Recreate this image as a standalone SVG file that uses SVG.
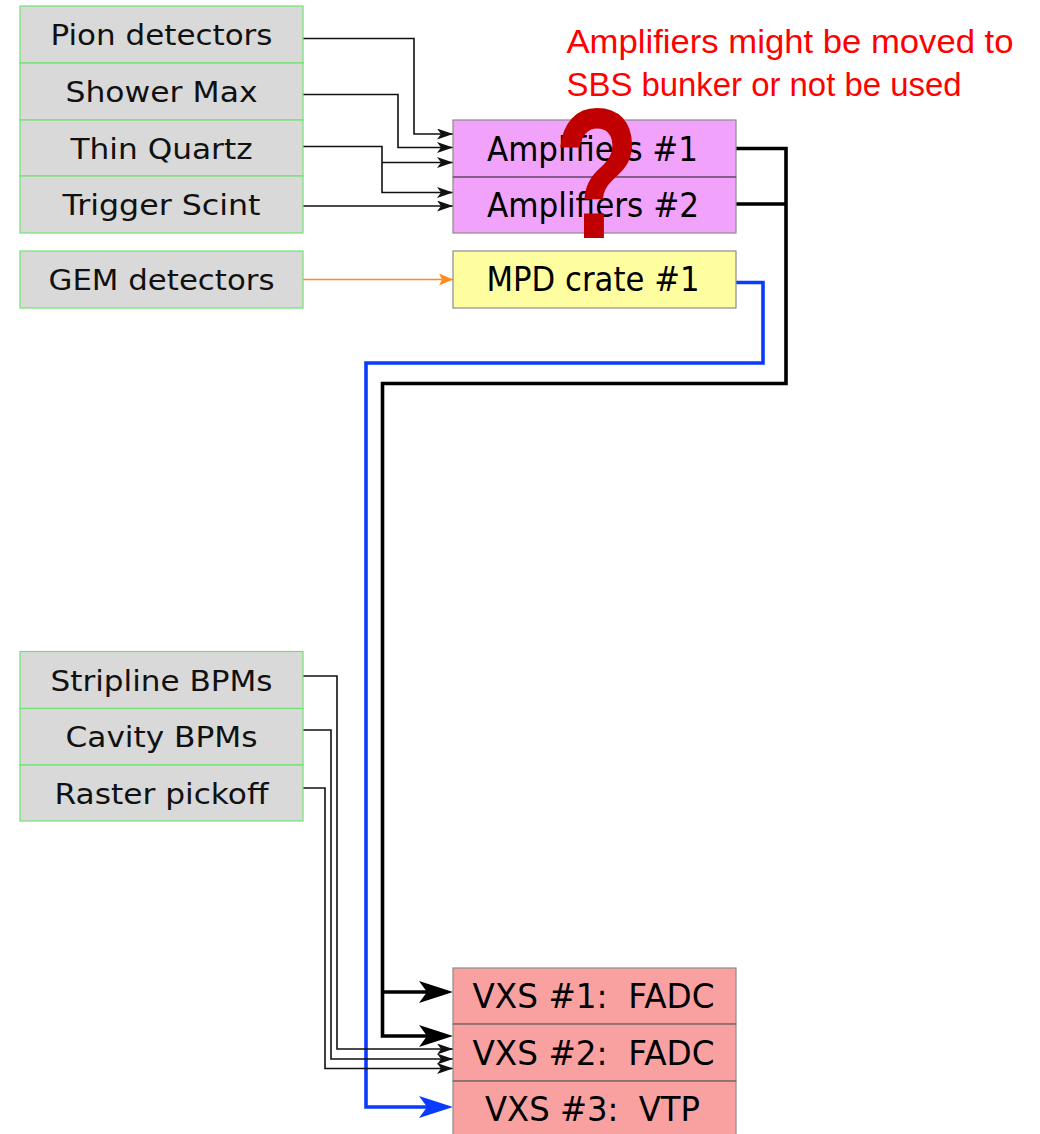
<svg xmlns="http://www.w3.org/2000/svg" width="1040" height="1134" viewBox="0 0 1040 1134">
<style>
.src{fill:#d9d9d9;stroke:#6fe36f;stroke-width:1.2}
.amp{fill:#f1a2fa;stroke:#8c8c8c;stroke-width:1.2}
.mpd{fill:#fefea0;stroke:#8c8c8c;stroke-width:1.2}
.vxs{fill:#f9a1a1;stroke:#8c8c8c;stroke-width:1.2}
.lt{font-family:"DejaVu Sans",Verdana,sans-serif;font-size:28px;fill:#111;text-anchor:middle}
.rt{font-family:"DejaVu Sans",Verdana,sans-serif;font-size:33px;fill:#000;text-anchor:middle}
.thin{fill:none;stroke:#111;stroke-width:1.6}
.thick{fill:none;stroke:#000;stroke-width:3.6}
.blue{fill:none;stroke:#0a3cff;stroke-width:3.6}
.orange{fill:none;stroke:#ff8c1a;stroke-width:1.6}
.note{font-family:"Liberation Sans",Arial,sans-serif;font-size:34px;fill:#ff0000}
</style>
<defs>
<marker id="sa" markerUnits="userSpaceOnUse" markerWidth="16" markerHeight="11" refX="16" refY="5.5" orient="auto"><path d="M0,0 L16,5.5 L0,11 L4,5.5 z" fill="#111"/></marker>
<marker id="oa" markerUnits="userSpaceOnUse" markerWidth="14" markerHeight="12" refX="14" refY="6" orient="auto"><path d="M0,0 L14,6 L0,12 L3,6 z" fill="#ff8c1a"/></marker>
<marker id="ba" markerUnits="userSpaceOnUse" markerWidth="34" markerHeight="22" refX="26" refY="11" orient="auto"><path d="M0,0 L34,11 L0,22 L8,11 z" fill="#000"/></marker>
<marker id="bb" markerUnits="userSpaceOnUse" markerWidth="34" markerHeight="22" refX="26" refY="11" orient="auto"><path d="M0,0 L34,11 L0,22 L8,11 z" fill="#0a3cff"/></marker>
</defs>

<g id="connectors">
<path class="thin" d="M303,38.5 H414 V134 H453" marker-end="url(#sa)"/>
<path class="thin" d="M303,94.5 H398 V147.5 H453" marker-end="url(#sa)"/>
<path class="thin" d="M303,146.5 H382 V192.5 H453" marker-end="url(#sa)"/>
<path class="thin" d="M382,162.5 H453" marker-end="url(#sa)"/>
<path class="thin" d="M303,206 H453" marker-end="url(#sa)"/>
<path class="orange" d="M303,279.5 H453" marker-end="url(#oa)"/>
<path class="thick" d="M736,148.5 H786 V383.5 H382.5 V1036 H445" marker-end="url(#ba)"/>
<path class="thick" d="M736,204 H786"/>
<path class="thick" d="M382.5,992 H445" marker-end="url(#ba)"/>
<path class="blue" d="M736,282.5 H763 V363 H366 V1107 H445" marker-end="url(#bb)"/>
<path class="thin" d="M303,676 H337 V1049 H453" marker-end="url(#sa)"/>
<path class="thin" d="M303,730 H331 V1059 H453" marker-end="url(#sa)"/>
<path class="thin" d="M303,788 H325 V1068.5 H453" marker-end="url(#sa)"/>
</g>

<g id="pion"><rect class="src" x="20" y="6" width="283" height="57"/><text class="lt" x="161.5" y="45" textLength="222" lengthAdjust="spacingAndGlyphs">Pion detectors</text></g>
<g id="shower"><rect class="src" x="20" y="63" width="283" height="57"/><text class="lt" x="161.5" y="102" textLength="192" lengthAdjust="spacingAndGlyphs">Shower Max</text></g>
<g id="quartz"><rect class="src" x="20" y="120" width="283" height="56"/><text class="lt" x="161.5" y="158.5" textLength="182" lengthAdjust="spacingAndGlyphs">Thin Quartz</text></g>
<g id="trigger"><rect class="src" x="20" y="176" width="283" height="57"/><text class="lt" x="161.5" y="215" textLength="198" lengthAdjust="spacingAndGlyphs">Trigger Scint</text></g>
<g id="gem"><rect class="src" x="20" y="251" width="283" height="57"/><text class="lt" x="161.5" y="290" textLength="226" lengthAdjust="spacingAndGlyphs">GEM detectors</text></g>

<g id="stripline"><rect class="src" x="20" y="651.5" width="283" height="57"/><text class="lt" x="161.5" y="690.5" textLength="222" lengthAdjust="spacingAndGlyphs">Stripline BPMs</text></g>
<g id="cavity"><rect class="src" x="20" y="708.5" width="283" height="56.5"/><text class="lt" x="161.5" y="747" textLength="192" lengthAdjust="spacingAndGlyphs">Cavity BPMs</text></g>
<g id="raster"><rect class="src" x="20" y="765" width="283" height="56"/><text class="lt" x="161.5" y="803.5" textLength="214" lengthAdjust="spacingAndGlyphs">Raster pickoff</text></g>

<g id="amp1"><rect class="amp" x="453" y="120" width="283" height="57"/><text class="rt" x="592.5" y="161" textLength="211" lengthAdjust="spacingAndGlyphs">Amplifiers #1</text></g>
<g id="amp2"><rect class="amp" x="453" y="177" width="283" height="56"/><text class="rt" x="593" y="217" textLength="212" lengthAdjust="spacingAndGlyphs">Amplifiers #2</text></g>
<line x1="453" y1="177" x2="736" y2="177" stroke="#7a4a80" stroke-width="1.4"/>
<g id="mpd"><rect class="mpd" x="453" y="251" width="283" height="57"/><text class="rt" x="593" y="291" textLength="213" lengthAdjust="spacingAndGlyphs">MPD crate #1</text></g>

<g id="vxs1"><rect class="vxs" x="453" y="968" width="283" height="56"/><text class="rt" x="593.5" y="1008" textLength="242" lengthAdjust="spacingAndGlyphs" xml:space="preserve">VXS #1:  FADC</text></g>
<g id="vxs2"><rect class="vxs" x="453" y="1024" width="283" height="57"/><text class="rt" x="593.5" y="1064.5" textLength="242" lengthAdjust="spacingAndGlyphs" xml:space="preserve">VXS #2:  FADC</text></g>
<g id="vxs3"><rect class="vxs" x="453" y="1081" width="283" height="60"/><text class="rt" x="592.5" y="1121" textLength="215" lengthAdjust="spacingAndGlyphs" xml:space="preserve">VXS #3:  VTP</text></g>
<line x1="453" y1="1024" x2="736" y2="1024" stroke="#7f5656" stroke-width="1.2"/>
<line x1="453" y1="1081" x2="736" y2="1081" stroke="#7f5656" stroke-width="1.2"/>

<g id="note">
<text class="note" x="566.5" y="53" textLength="447" lengthAdjust="spacingAndGlyphs">Amplifiers might be moved to</text>
<text class="note" x="566.5" y="96" textLength="395" lengthAdjust="spacingAndGlyphs">SBS bunker or not be used</text>
</g>
<g id="question"><text x="0" y="0" transform="translate(597,238) scale(0.76,1)" font-family="Liberation Sans,Arial,sans-serif" font-weight="bold" font-size="186" fill="#c00000" text-anchor="middle">?</text></g>
</svg>
